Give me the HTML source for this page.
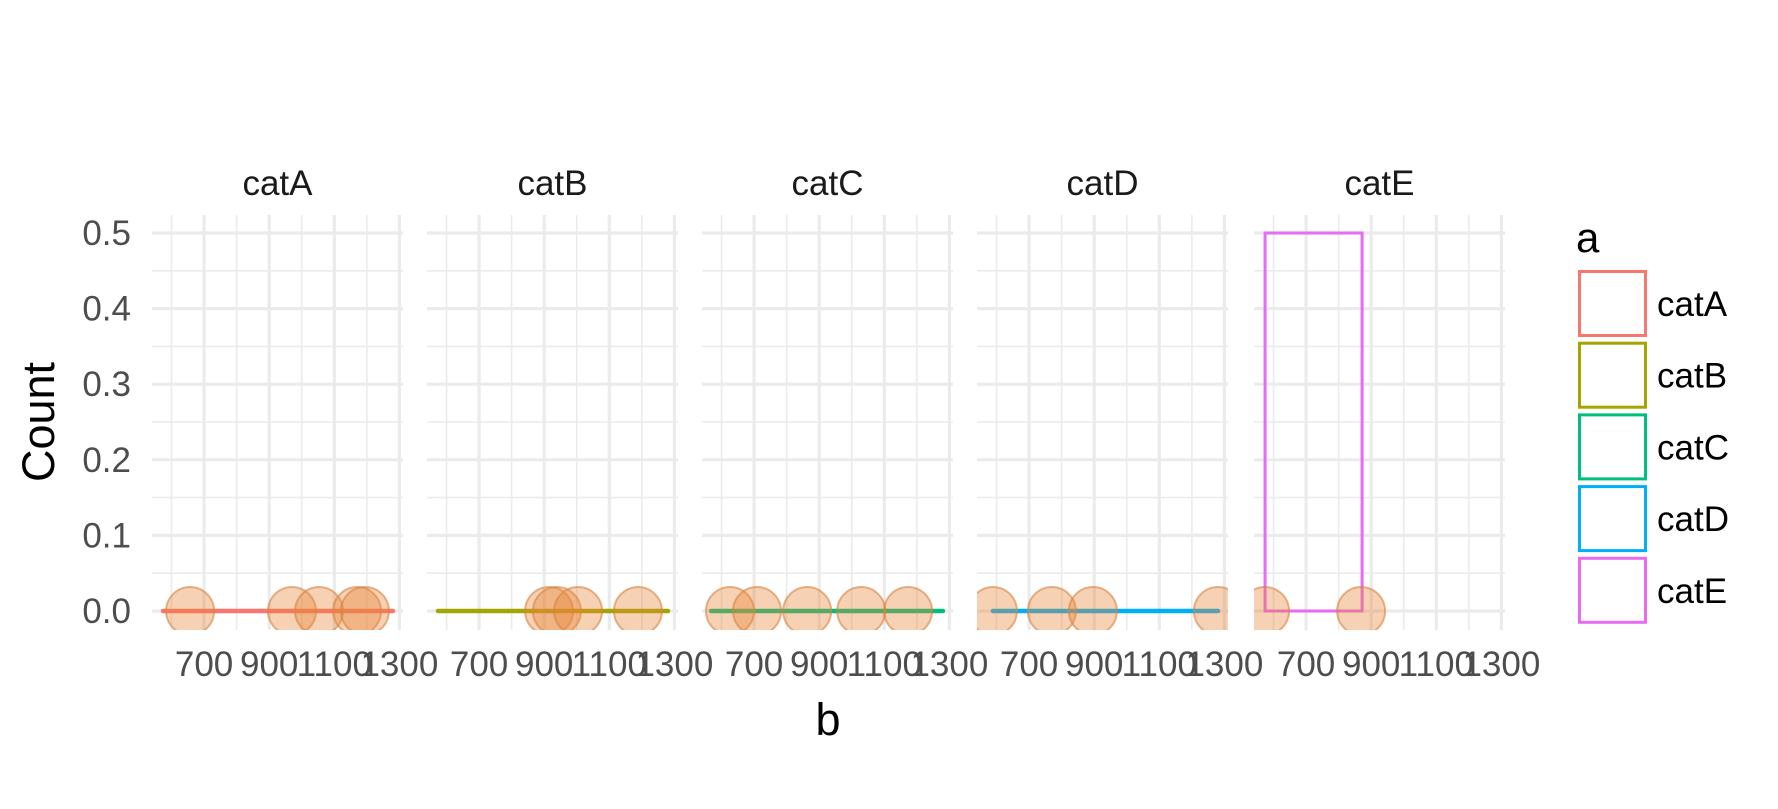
<!DOCTYPE html>
<html><head><meta charset="utf-8"><style>
html,body{margin:0;padding:0;background:#fff;}
svg{display:block;font-family:"Liberation Sans",sans-serif;}
</style></head><body>
<svg id="chart" width="1778" height="809" viewBox="0 0 1778 809" xmlns="http://www.w3.org/2000/svg">
<text x="0" y="0" transform="translate(54,422) rotate(-90)" text-anchor="middle" font-size="45" fill="#000">Count</text>
<text x="828" y="735" text-anchor="middle" font-size="45" fill="#000">b</text>
<text x="1576" y="252" font-size="42" fill="#000">a</text>
</svg>
<script>
const categories = ["catA","catB","catC","catD","catE"];
const colors = ["#F8766D","#A3A500","#00BF7D","#00B0F6","#E76BF3"];
const pointsA = [657, 970, 1053, 1170, 1194];
const pointsB = [915, 939, 1004, 1188];
const pointsC = [626, 709, 863, 1029, 1173];
const pointsD = [589, 770, 896, 1280];
const pointsE = [574, 869];
const lineStart = [574, 574, 568, 589, null];
const lineEnd = [1280, 1280, 1280, 1280, null];
const barE = {x0: 574, x1: 872, count: 0.5};
const yTicks = [0, 0.1, 0.2, 0.3, 0.4, 0.5];
const xTicks = [700, 900, 1100, 1300];
const xMinor = [600, 800, 1000, 1200];
const yMinor = [0.05, 0.15, 0.25, 0.35, 0.45];

const NS = "http://www.w3.org/2000/svg";
const svg = document.getElementById("chart");
const panelLefts = [152, 427, 702, 977, 1254];
const PW = 251, PT = 215, PB = 630;
const X0 = 540, X1 = 1311;
function yScale(v){ return 611 - v * 756; }
function xScale(p, v){ return panelLefts[p] + (v - X0) / (X1 - X0) * PW; }
function el(tag, attrs){ const e = document.createElementNS(NS, tag); for (const k in attrs) e.setAttribute(k, attrs[k]); return e; }
const allPoints = [pointsA, pointsB, pointsC, pointsD, pointsE];

const defs = el("defs", {});
svg.appendChild(defs);

yTicks.forEach(t => {
  const tx = el("text", {x: 131, y: yScale(t) + 12, "text-anchor": "end", "font-size": 35, fill: "#4D4D4D"});
  
  
  tx.textContent = t.toFixed(1);
  svg.appendChild(tx);
});

categories.forEach((cat, p) => {
  const L = panelLefts[p];
  const g = el("g", {});
  
  
  svg.appendChild(g);
  const cp = el("clipPath", {id: "clip" + p});
  cp.appendChild(el("rect", {x: L, y: PT, width: PW, height: PB - PT}));
  defs.appendChild(cp);
  yMinor.forEach(v => g.appendChild(el("line", {x1: L, x2: L + PW, y1: yScale(v), y2: yScale(v), stroke: "#EBEBEB", "stroke-width": 1.6})));
  xMinor.forEach(v => g.appendChild(el("line", {x1: xScale(p, v), x2: xScale(p, v), y1: PT, y2: PB, stroke: "#EBEBEB", "stroke-width": 1.6})));
  yTicks.forEach(v => g.appendChild(el("line", {x1: L, x2: L + PW, y1: yScale(v), y2: yScale(v), stroke: "#EBEBEB", "stroke-width": 3.2})));
  xTicks.forEach(v => g.appendChild(el("line", {x1: xScale(p, v), x2: xScale(p, v), y1: PT, y2: PB, stroke: "#EBEBEB", "stroke-width": 3.2})));
  const st = el("text", {x: L + PW / 2, y: 195, "text-anchor": "middle", "font-size": 35, fill: "#1A1A1A"});
  
  
  st.textContent = cat;
  svg.appendChild(st);
  xTicks.forEach(v => {
    const tx = el("text", {x: xScale(p, v), y: 676, "text-anchor": "middle", "font-size": 35, fill: "#4D4D4D"});
    
    
    tx.textContent = v;
    svg.appendChild(tx);
  });
  if (cat === "catE") {
    const r = el("rect", {x: xScale(p, barE.x0), y: yScale(barE.count), width: xScale(p, barE.x1) - xScale(p, barE.x0), height: yScale(0) - yScale(barE.count), fill: "none", stroke: colors[p], "stroke-width": 3});
    
    
    g.appendChild(r);
  }
  if (lineStart[p] !== null) {
    const ln = el("line", {x1: xScale(p, lineStart[p]), x2: xScale(p, lineEnd[p]), y1: yScale(0), y2: yScale(0), stroke: colors[p], "stroke-width": 4.5, "stroke-linecap": "round"});
    
    
    g.appendChild(ln);
  }
  const pg = el("g", {"clip-path": "url(#clip" + p + ")"});
  g.appendChild(pg);
  allPoints[p].forEach(v => {
    const c = el("circle", {cx: xScale(p, v), cy: yScale(0), r: 24, fill: "#E8873A", "fill-opacity": 0.38, stroke: "#D9823F", "stroke-opacity": 0.6, "stroke-width": 2});
    
    
    pg.appendChild(c);
  });
});

categories.forEach((cat, i) => {
  const y = 270 + i * 71.7;
  const r = el("rect", {x: 1579.5, y: y + 1.5, width: 66, height: 64, fill: "#fff", stroke: colors[i], "stroke-width": 3});
  
  
  svg.appendChild(r);
  const t = el("text", {x: 1657, y: y + 46, "font-size": 35, fill: "#000"});
  
  
  t.textContent = cat;
  svg.appendChild(t);
});
</script>
</body></html>
